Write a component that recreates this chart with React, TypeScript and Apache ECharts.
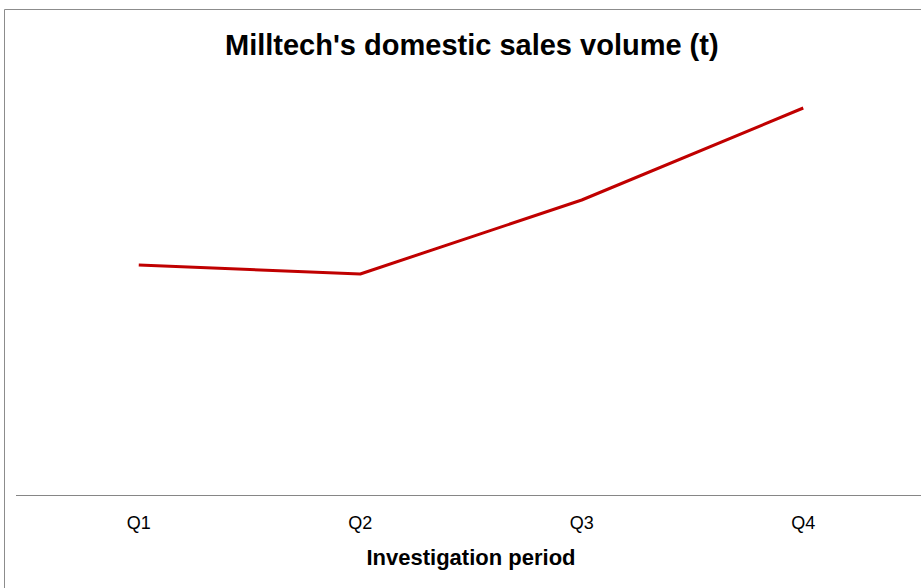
import React, { useEffect, useRef } from "react";
import * as echarts from "echarts";

const categories = ["Q1", "Q2", "Q3", "Q4"];
const salesVolume = [230, 221, 295, 387];
const titleText = "Milltech's domestic sales volume (t)";
const xAxisName = "Investigation period";

const FONT = "Liberation Sans, Arial, sans-serif";

export default function App() {
  const ref = useRef<HTMLDivElement>(null);
  useEffect(() => {
    if (!ref.current) return;
    const chart = echarts.init(ref.current, undefined, { renderer: "svg" });
    chart.setOption({
      animation: false,
      backgroundColor: "#ffffff",
      title: {
        text: titleText,
        left: 220,
        top: 25,
        textStyle: {
          fontFamily: FONT,
          fontWeight: "bold",
          fontSize: 29,
          color: "#000",
        },
      },
      grid: { left: 28, right: 7, top: 95, bottom: 93 },
      xAxis: {
        type: "category",
        data: categories,
        boundaryGap: true,
        axisLine: { show: true, lineStyle: { color: "#868686", width: 1 } },
        axisTick: { show: false },
        axisLabel: {
          margin: 19,
          fontSize: 18,
          color: "#000",
          fontFamily: FONT,
        },
        name: xAxisName,
        nameLocation: "middle",
        nameGap: 51,
        nameTextStyle: {
          fontSize: 22,
          fontWeight: "bold",
          color: "#000",
          fontFamily: FONT,
        },
      },
      yAxis: {
        type: "value",
        min: 0,
        max: 400,
        show: false,
        splitLine: { show: false },
      },
      series: [
        {
          type: "line",
          data: salesVolume,
          symbol: "none",
          lineStyle: { color: "#c00000", width: 3 },
          itemStyle: { color: "#c00000" },
        },
      ],
      graphic: [
        {
          type: "rect",
          shape: { x: 4.5, y: 9.5, width: 930, height: 600 },
          style: { fill: "none", stroke: "#8c8c8c", lineWidth: 1 },
          silent: true,
        },
        {
          type: "line",
          shape: { x1: 16, y1: 495.5, x2: 921, y2: 495.5 },
          style: { stroke: "#868686", lineWidth: 1 },
          silent: true,
        },
      ],
    });
    return () => chart.dispose();
  }, []);
  return (
    <div
      ref={ref}
      style={{ position: "fixed", left: 0, top: 0, width: 921, height: 588 }}
    />
  );
}
